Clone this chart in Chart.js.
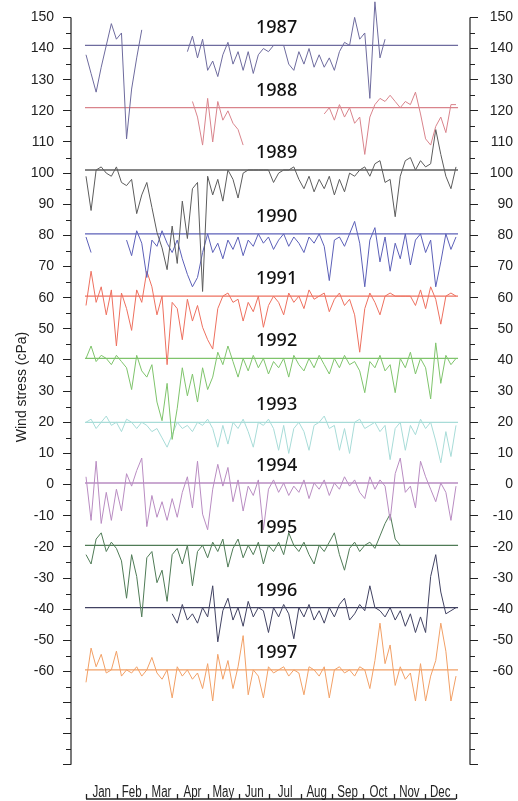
<!DOCTYPE html>
<html>
<head>
<meta charset="utf-8">
<title>Wind stress 1987-1997</title>
<script src="https://cdn.jsdelivr.net/npm/chart.js@4.4.1/dist/chart.umd.min.js"></script>
<style>
  html, body { margin: 0; padding: 0; background: #fff; }
  #wrap { width: 518px; height: 801px; position: relative; }
</style>
</head>
<body>
<div id="wrap"><canvas id="stressChart"></canvas></div>
<script>
// Day of year for each sample (5-day steps)
const days = [
  0, 5, 10, 15, 20, 25, 30, 35, 40, 45, 50, 55, 60, 65, 70, 75, 80, 85, 90, 95,
  100, 105, 110, 115, 120, 125, 130, 135, 140, 145, 150, 155, 160, 165, 170, 175, 180, 185, 190, 195,
  200, 205, 210, 215, 220, 225, 230, 235, 240, 245, 250, 255, 260, 265, 270, 275, 280, 285, 290, 295,
  300, 305, 310, 315, 320, 325, 330, 335, 340, 345, 350, 355, 360, 365
];

const years     = ['1987', '1988', '1989', '1990', '1991', '1992', '1993', '1994', '1995', '1996', '1997'];
// each year is stacked on its own baseline (cPa)
const baselines = [141, 121, 101, 80.5, 60.5, 40.5, 20, 0.5, -19.5, -39.5, -59.5];
const colors    = ['#6e6b9e', '#d9848c', '#5c5c5c', '#5c60b8', '#ee705f', '#7fc46c',
                   '#a8dcd8', '#b98cc2', '#4f7b56', '#414262', '#f2a066'];

// wind stress anomaly about each baseline (cPa), null = no data
const s1987 = [
  -3, -9, -15, -7, 0, 7, 2, 4, -30, -14,
  -4, 5, null, null, null, null, null, null, null, null,
  -2, 3, -4, 2, -8, -5, -10, -3, 1, -6,
  -2, -8, -2, -9, -3, -1, -2, 0, 0, 0,
  -6, -8, -2, -6, -1, -7, -3, -7, -4, -8,
  -2, 1, 0, 9, 2, 4, -17, 14, -4, 2,
  null, null, null, null, null, null, null, null, null, null,
  null, null, null, null
];
const s1988 = [
  null, null, null, null, null, null, null, null, null, null,
  null, null, null, null, null, null, null, null, null, null,
  null, 2, -3, -12, 3, -11, 2, -4, -1, -5,
  -7, -12, null, null, null, null, null, null, null, null,
  null, null, null, null, null, null, null, -2, 0, -4,
  1, -3, 0, -5, -3, -15, -3, 1, 3, 2,
  4, 2, 0, 2, 1, 5, -2, -10, -12, -6,
  -3, -8, 1, 1
];
const s1989 = [
  -2, -13, 0, 1, -1, -2, 1, -4, -5, -3,
  -14, -8, -4, -12, -20, -25, -32, -18, -30, -10,
  -22, -6, -4, -39, -2, -8, -3, -10, 0, -3,
  -9, -1, 0, 0, 0, 0, 0, -4, -1, 0,
  0, 1, -3, -6, -2, -7, -3, -6, -2, -8,
  -3, -7, -1, -2, 0, 1, -2, 2, 3, -4,
  -3, -15, -2, 3, 4, 0, 3, 1, 2, 13,
  5, -2, -6, 1
];
const s1990 = [
  -1, -6, null, null, null, null, null, null, -2, -7,
  1, -3, -14, -2, -4, 1, -3, -6, -2, -8,
  -13, -17, -14, -6, 0, -6, -3, -8, -2, -5,
  -1, -7, -2, -4, 0, -3, -1, -5, -2, 0,
  -4, -1, -3, -6, -1, -3, 0, -4, -15, -2,
  -1, -4, 0, 4, -3, -17, -2, 2, -9, -1,
  -12, -3, -8, 0, -10, -2, 0, -6, -2, -17,
  -9, 0, -5, -1
];
const s1991 = [
  -3, 8, -2, 3, -6, 2, -16, 1, -4, -11,
  2, -2, 8, 3, -6, 0, -22, -2, -4, -14,
  -1, -8, -3, -10, -14, -17, -4, 0, 1, -2,
  -1, -8, -2, -5, 0, -10, -3, 0, -2, -6,
  1, -2, 0, -4, 2, -1, 0, 1, -5, -1,
  1, -3, -1, -6, -18, -4, 1, -2, -6, 0,
  1, 0, 0, 0, 0, -3, 2, -4, 3, -1,
  -9, 0, 1, 0
];
const s1992 = [
  0, 4, -1, 1, 0, -2, 1, -1, -3, -10,
  1, -4, -6, -2, -14, -20, -8, -26, -16, -3,
  -12, -5, -14, -3, -10, -6, 2, -2, 4, -1,
  -6, 0, -4, 1, -3, 0, -5, -1, -3, 0,
  -6, 1, -2, -4, 0, -3, 1, -2, -5, 0,
  -3, 1, -2, -1, -4, -11, -1, -3, 1, -4,
  -2, -11, 0, -3, 2, -5, 0, -3, -13, 5,
  -8, 1, -2, 0
];
const s1993 = [
  0, 1, -2, 0, 2, -1, 0, -3, 1, 0,
  -2, 0, -1, -3, -2, -5, -8, -4, 0, -2,
  -1, -3, 0, -1, 1, -2, -8, -1, -7, 0,
  -2, 1, -3, -8, 0, -1, 1, -2, -9, -1,
  -10, -2, 0, -3, -9, -1, 0, 2, -2, -1,
  -9, -2, -10, 0, 1, -2, -1, 0, -3, -1,
  -12, -2, 0, -9, -1, -4, 1, -2, 0, -6,
  -13, -3, -11, -1
];
const s1994 = [
  2, -12, 7, -13, -3, -12, -2, -9, 3, -1,
  4, 8, -14, -4, -11, -6, -12, -5, -11, -3,
  2, -8, 7, -10, -15, -2, 6, -1, 5, -6,
  1, -9, -1, -4, 1, -15, -2, 1, -3, 0,
  -4, -1, -3, 1, -5, 0, -2, 1, -4, 0,
  -2, 2, -1, 1, -3, -5, 2, -2, 1, -1,
  -12, 3, 8, -3, -1, -8, 7, 2, -2, -6,
  0, -3, -12, -1
];
const s1995 = [
  -3, -6, 2, 4, -2, 1, -1, -5, -17, -3,
  -10, -23, -4, -2, -12, -8, -18, -3, -1, -6,
  0, -13, -2, 0, -4, 1, -2, 2, -7, -1,
  2, -4, 0, -3, 1, -6, 0, -2, 1, -3,
  4, 0, -2, 1, -3, -6, 0, -2, 1, 4,
  -3, -8, -1, 1, -2, 0, 1, -1, 3, 7,
  10, 2, 0, null, null, null, null, null, null, null,
  null, null, null, null
];
const s1996 = [
  null, null, null, null, null, null, null, null, null, null,
  null, null, null, null, null, null, null, -2, -5, 1,
  -4, -2, -5, 0, -3, 7, -11, -1, 3, -4,
  0, -6, 2, -3, 0, -1, -8, 0, -3, 1,
  -2, -10, 0, -3, 1, -4, -1, -5, 0, -3,
  1, 3, -4, -2, 1, -1, 7, 0, -1, -3,
  0, -4, -1, -6, -2, -8, -3, -8, 10, 17,
  5, -2, -1, 0
];
const s1997 = [
  -4, 7, 1, 5, -1, 0, 6, -2, 0, -1,
  1, -2, 0, 4, -1, -3, 0, -9, 1, -2,
  0, -3, -1, -6, 2, -10, 5, -3, 3, -6,
  1, 11, -8, 0, -2, -9, 1, -1, 0, 1,
  -2, 0, -1, -8, 1, 0, -2, 1, -9, 0,
  1, -1, 0, -2, 1, 0, -6, 3, 15, 2,
  8, -5, 1, -3, -1, -10, 2, -10, -2, 3,
  15, 6, -10, -2
];
const series = [s1987, s1988, s1989, s1990, s1991, s1992, s1993, s1994, s1995, s1996, s1997];

// axis labels
const months      = ['Jan', 'Feb', 'Mar', 'Apr', 'May', 'Jun', 'Jul', 'Aug', 'Sep', 'Oct', 'Nov', 'Dec'];
const monthStarts = [0, 31, 59, 90, 120, 151, 181, 212, 243, 273, 304, 334, 365];
const yLabelTicks = [150, 140, 130, 120, 110, 100, 90, 80, 70, 60, 50, 40, 30, 20, 10, 0,
                     -10, -20, -30, -40, -50, -60];
const yBlankTicks = [-70, -80, -90];

const INK = '#222';
const TICK_FONT = { family: "'Liberation Sans', Arial, sans-serif", size: 14 };

// ── Datasets ──────────────────────────────────────────────────────────────────
const datasets = [];
years.forEach((yr, i) => {
  datasets.push({
    label: yr + ' mean',
    data: [{ x: -1, y: baselines[i] }, { x: 367, y: baselines[i] }],
    borderColor: colors[i], borderWidth: 1.3, pointRadius: 0
  });
  datasets.push({
    label: yr,
    data: days.map((d, k) => ({ x: d, y: series[i][k] == null ? null : baselines[i] + series[i][k] })),
    borderColor: colors[i], borderWidth: 1, pointRadius: 0,
    spanGaps: false, tension: 0, clip: false
  });
});

// ── Axis lines, minor ticks, month names, year labels, y title ────────────────
const decor = {
  id: 'decor',
  afterDatasetsDraw(chart) {
    const { ctx, chartArea, scales: { x, y } } = chart;
    const top = y.getPixelForValue(150), bot = y.getPixelForValue(-90);
    ctx.save();
    ctx.strokeStyle = INK;
    ctx.lineWidth = 1.2;

    // vertical axis lines, left and right
    ctx.beginPath();
    ctx.moveTo(chartArea.left, top);  ctx.lineTo(chartArea.left, bot);
    ctx.moveTo(chartArea.right, top); ctx.lineTo(chartArea.right, bot);
    ctx.stroke();

    // minor ticks halfway between labelled ones
    ctx.lineWidth = 1;
    ctx.beginPath();
    for (let v = -85; v < 150; v += 10) {
      const py = Math.round(y.getPixelForValue(v)) + 0.5;
      ctx.moveTo(chartArea.left - 5, py);  ctx.lineTo(chartArea.left, py);
      ctx.moveTo(chartArea.right, py);     ctx.lineTo(chartArea.right + 5, py);
    }
    ctx.stroke();

    // month axis along the bottom, ticks pointing up
    const ay = x.top + 17;
    ctx.lineWidth = 1.3;
    ctx.beginPath();
    ctx.moveTo(x.getPixelForValue(0), ay); ctx.lineTo(x.getPixelForValue(365), ay);
    monthStarts.forEach(d => {
      const px = Math.round(x.getPixelForValue(d)) + 0.5;
      ctx.moveTo(px, ay); ctx.lineTo(px, ay - 5);
    });
    ctx.stroke();

    // month names sit just above the axis, in a narrow face
    ctx.fillStyle = INK;
    ctx.font = "16px 'Liberation Sans', Arial, sans-serif";
    ctx.textAlign = 'center';
    ctx.textBaseline = 'alphabetic';
    months.forEach((m, i) => {
      ctx.save();
      ctx.translate(x.getPixelForValue((monthStarts[i] + monthStarts[i + 1]) / 2), ay - 2.2);
      ctx.scale(0.72, 1);
      ctx.fillText(m, 0, 0);
      ctx.restore();
    });

    // year label above each trace
    ctx.fillStyle = '#111';
    ctx.font = "500 18px 'Noto Sans', 'Open Sans', sans-serif";
    ctx.textBaseline = 'middle';
    years.forEach((yr, i) => {
      ctx.fillText(yr, x.getPixelForValue(188), y.getPixelForValue(baselines[i] + 5.5));
    });

    // y axis title
    ctx.translate(22, 387);
    ctx.rotate(-Math.PI / 2);
    ctx.font = "14px 'Liberation Sans', Arial, sans-serif";
    ctx.fillStyle = INK;
    ctx.fillText('Wind stress (cPa)', 0, 0);
    ctx.restore();
  }
};

const setYTicks = scale => {
  scale.ticks = yLabelTicks.concat(yBlankTicks).map(v => ({ value: v }));
};
const yLabel = v => (yBlankTicks.includes(v) ? '' : String(v));

new Chart(document.getElementById('stressChart'), {
  type: 'line',
  data: { datasets },
  options: {
    responsive: true, maintainAspectRatio: false, animation: false, devicePixelRatio: 1,
    layout: { padding: { left: 0, right: 5, top: 17, bottom: 0 } },
    plugins: { legend: { display: false }, tooltip: { enabled: false } },
    scales: {
      x: {
        type: 'linear', min: -14.8, max: 378.8,
        afterFit: s => { s.height = 19; },
        grid: { display: false, drawTicks: false }, border: { display: false },
        ticks: { display: false }
      },
      y: {
        type: 'linear', position: 'left', min: -95.5, max: 150,
        afterBuildTicks: setYTicks,
        afterFit: s => { s.width = 71; },
        grid: { drawOnChartArea: false, tickLength: 8, color: INK, lineWidth: 1 },
        border: { display: false },
        ticks: { padding: 9, color: INK, font: TICK_FONT, callback: yLabel }
      },
      y2: {
        type: 'linear', position: 'right', min: -95.5, max: 150,
        afterBuildTicks: setYTicks,
        afterFit: s => { s.width = 43; },
        grid: { drawOnChartArea: false, tickLength: 8, color: INK, lineWidth: 1 },
        border: { display: false },
        ticks: { crossAlign: 'far', color: INK, font: TICK_FONT, callback: yLabel }
      }
    }
  },
  plugins: [decor]
});
</script>
</body>
</html>
